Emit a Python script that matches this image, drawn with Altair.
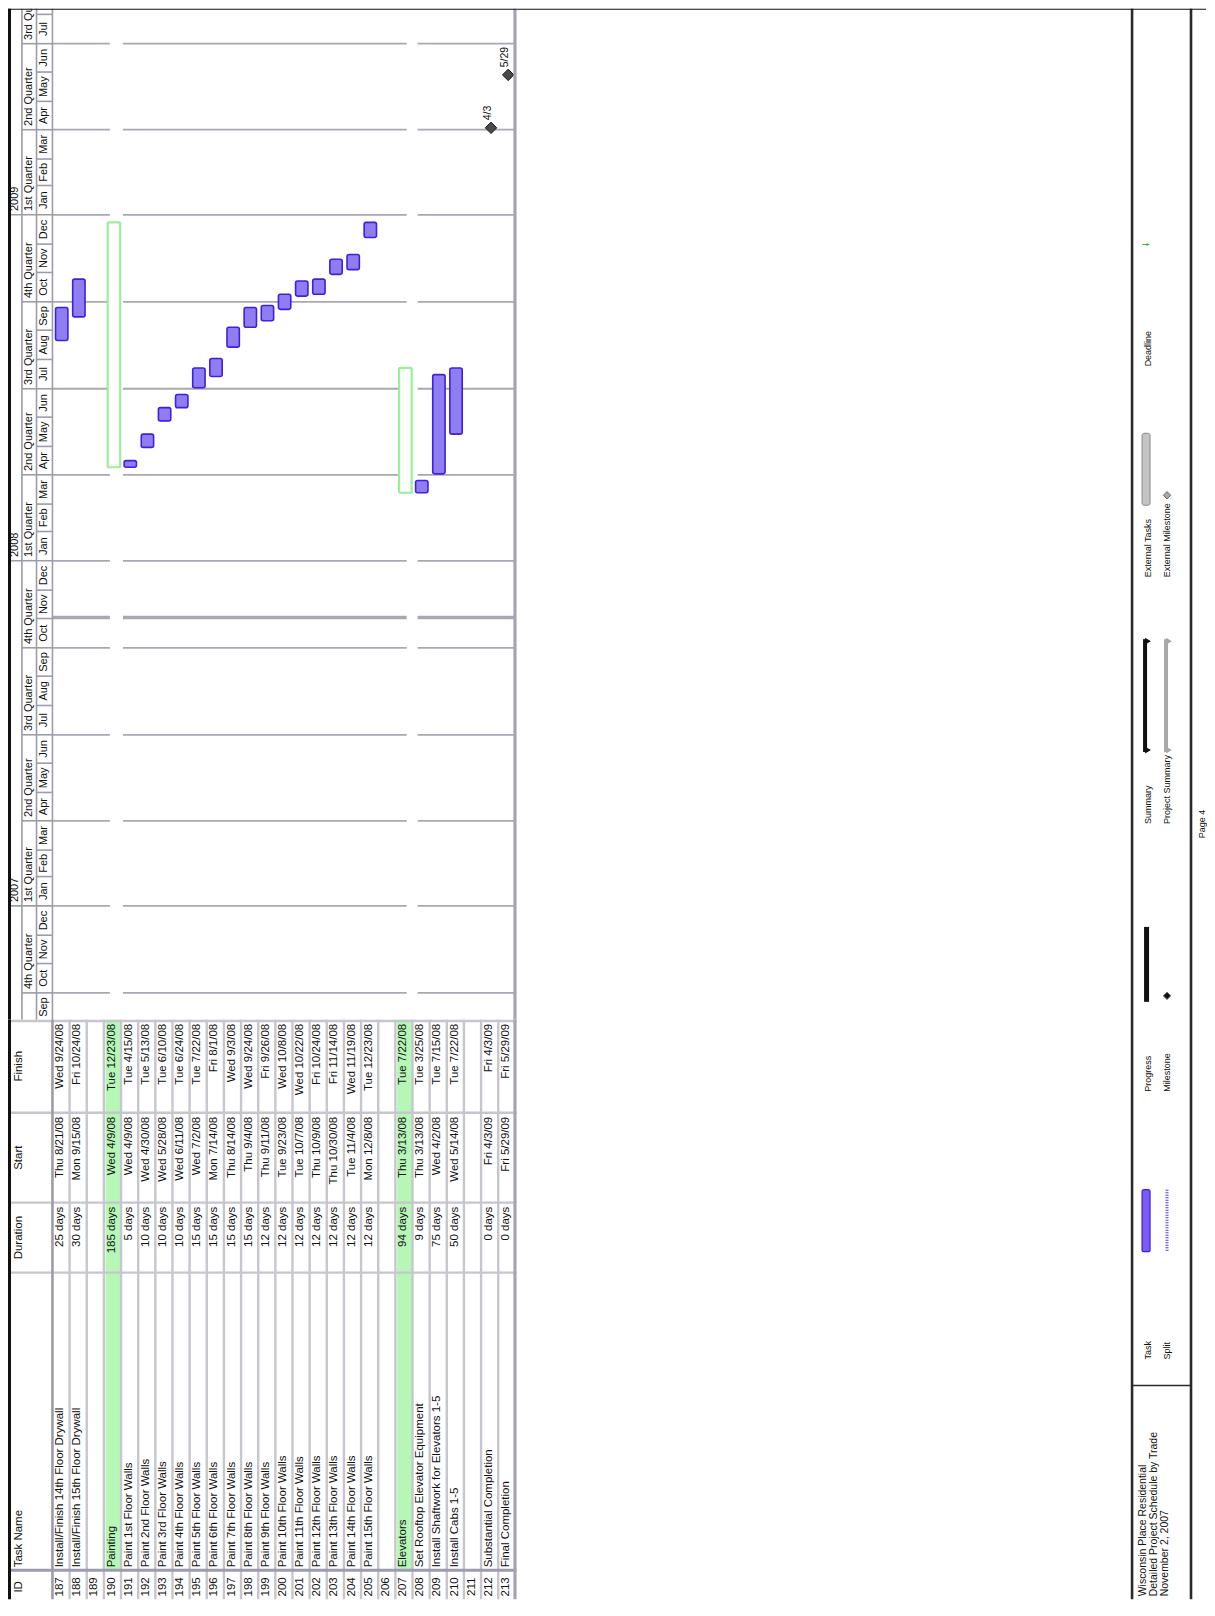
import altair as alt
import pandas as pd
from datetime import datetime, timedelta

# ------------------------------------------------------------------ data
task_ids = list(range(187, 214))
task_names = [
    "Install/Finish 14th Floor Drywall", "Install/Finish 15th Floor Drywall", "", "Painting",
    "Paint 1st Floor Walls", "Paint 2nd Floor Walls", "Paint 3rd Floor Walls", "Paint 4th Floor Walls",
    "Paint 5th Floor Walls", "Paint 6th Floor Walls", "Paint 7th Floor Walls", "Paint 8th Floor Walls",
    "Paint 9th Floor Walls", "Paint 10th Floor Walls", "Paint 11th Floor Walls", "Paint 12th Floor Walls",
    "Paint 13th Floor Walls", "Paint 14th Floor Walls", "Paint 15th Floor Walls", "", "Elevators",
    "Set Rooftop Elevator Equipment", "Install Shaftwork for Elevators 1-5", "Install Cabs 1-5", "",
    "Substantial Completion", "Final Completion",
]
durations = [
    "25 days", "30 days", "", "185 days", "5 days", "10 days", "10 days", "10 days", "15 days",
    "15 days", "15 days", "15 days", "12 days", "12 days", "12 days", "12 days", "12 days", "12 days",
    "12 days", "", "94 days", "9 days", "75 days", "50 days", "", "0 days", "0 days",
]
starts = [
    "Thu 8/21/08", "Mon 9/15/08", "", "Wed 4/9/08", "Wed 4/9/08", "Wed 4/30/08", "Wed 5/28/08",
    "Wed 6/11/08", "Wed 7/2/08", "Mon 7/14/08", "Thu 8/14/08", "Thu 9/4/08", "Thu 9/11/08",
    "Tue 9/23/08", "Tue 10/7/08", "Thu 10/9/08", "Thu 10/30/08", "Tue 11/4/08", "Mon 12/8/08", "",
    "Thu 3/13/08", "Thu 3/13/08", "Wed 4/2/08", "Wed 5/14/08", "", "Fri 4/3/09", "Fri 5/29/09",
]
finishes = [
    "Wed 9/24/08", "Fri 10/24/08", "", "Tue 12/23/08", "Tue 4/15/08", "Tue 5/13/08", "Tue 6/10/08",
    "Tue 6/24/08", "Tue 7/22/08", "Fri 8/1/08", "Wed 9/3/08", "Wed 9/24/08", "Fri 9/26/08",
    "Wed 10/8/08", "Wed 10/22/08", "Fri 10/24/08", "Fri 11/14/08", "Wed 11/19/08", "Tue 12/23/08", "",
    "Tue 7/22/08", "Tue 3/25/08", "Tue 7/15/08", "Tue 7/22/08", "", "Fri 4/3/09", "Fri 5/29/09",
]
kinds = (["task", "task", "blank", "summary"] + ["task"] * 15 +
         ["blank", "summary", "task", "task", "task", "blank", "milestone", "milestone"])

status_date = "2007-11-02"
column_headers = ["Finish", "Start", "Duration", "Task Name", "ID"]
month_abbr = ["Jan", "Feb", "Mar", "Apr", "May", "Jun", "Jul", "Aug", "Sep", "Oct", "Nov", "Dec"]
quarter_names = ["1st Quarter", "2nd Quarter", "3rd Quarter", "4th Quarter"]
footer_title = ["Wisconsin Place Residential", "Detailed Project Schedule by Trade", "November 2, 2007"]
legend_col1 = ["Task", "Progress", "Summary", "External Tasks", "Deadline"]
legend_col2 = ["Split", "Milestone", "Project Summary", "External Milestone"]
page_label = "Page 4"

# ------------------------------------------------------------------ layout
FONT = "Liberation Sans"
LEFT_W = 509
GANTT_H = 1012
TABLE_H = 580
FOOT_W = 690
X0, X1 = -2.593, 27.07
PPU = LEFT_W / (X1 - X0)          # pixels per row unit
XS = alt.Scale(domain=[X0, X1], nice=False, zero=False)
YS = alt.Scale(domain=[alt.DateTime(year=2006, month=9, date=2, hours=12),
                       alt.DateTime(year=2009, month=8, date=7, hours=1)], nice=False)
TS = alt.Scale(domain=[1020, 1600], nice=False, zero=False, reverse=True)
FXS = alt.Scale(domain=[517, 1207], nice=False, zero=False)
FYS = alt.Scale(domain=[8, 1600], nice=False, zero=False, reverse=True)

YEAR_X, QTR_X, MON_X = -1.78, -0.93, 0.0
GRID_SEGS = [(0.0, 3.35), (4.11, 20.66), (21.3, 26.95)]
COL_EDGES = [1020, 1113, 1203, 1273, 1571, 1600]

GRID = "#a8a8b5"
HEAD_LINE = "#9c9caa"
TABLE_LINE = "#c6c6ce"
BAR_FILL = "#8f7ef2"
BAR_STROKE = "#3f1fe0"
SUM_GREEN = "#98f098"
INK = "#111111"


def parse_day(s):
    m, d, y = s.split()[1].split("/")
    return datetime(2000 + int(y), int(m), int(d))


def iso(dt):
    return dt.strftime("%Y-%m-%dT%H:%M:%S")


def gx(f="x"):
    return alt.X(f"{f}:Q", scale=XS, axis=None)


def gy(f="d"):
    return alt.Y(f"{f}:T", scale=YS, axis=None)


def ty(f="py"):
    return alt.Y(f"{f}:Q", scale=TS, axis=None)


def fx(f="px"):
    return alt.X(f"{f}:Q", scale=FXS, axis=None)


def fy(f="py"):
    return alt.Y(f"{f}:Q", scale=FYS, axis=None)


def vbands(centers, width_px, color, ppu=PPU, enc=gx):
    """full-height thin line drawn as a stroke-less rect"""
    h = width_px / 2 / ppu
    df = pd.DataFrame({"x": [c - h for c in centers], "x2": [c + h for c in centers]})
    if enc is fx:
        df = df.rename(columns={"x": "px", "x2": "px2"})
        return alt.Chart(df).mark_rect(fill=color).encode(x=fx(), x2=alt.X2("px2"))
    return alt.Chart(df).mark_rect(fill=color).encode(x=gx(), x2=alt.X2("x2"))


def hbands_table(centers, width_px, color):
    h = width_px / 2
    df = pd.DataFrame({"py": [c - h for c in centers], "py2": [c + h for c in centers]})
    return alt.Chart(df).mark_rect(fill=color).encode(y=ty(), y2=alt.Y2("py2"))


def top_line():
    return alt.Chart(pd.DataFrame({"a": [0]})).mark_rect(fill=INK).encode(
        y=alt.value(0), y2=alt.value(1))


# ------------------------------------------------------------------ gantt panel
bars, sums, miles, mlabels = [], [], [], []
for i, (k, s, f) in enumerate(zip(kinds, starts, finishes)):
    if k == "task":
        bars.append({"x": i + 0.18, "x2": i + 0.9, "d": iso(parse_day(s)),
                     "d2": iso(parse_day(f) + timedelta(days=1))})
    elif k == "summary":
        sums.append({"x": i + 0.22, "x2": i + 0.95, "d": iso(parse_day(s)),
                     "d2": iso(parse_day(f) + timedelta(days=1))})
    elif k == "milestone":
        dt = parse_day(f)
        miles.append({"x": i + 0.58, "d": iso(dt)})
        mlabels.append({"x": i + 0.38, "d": iso(dt + timedelta(days=8)),
                        "t": f"{dt.month}/{dt.day}"})

# calendar
month_starts = []
y, m = 2006, 9
while (y, m) <= (2009, 7):
    month_starts.append(datetime(y, m, 1))
    m += 1
    if m > 12:
        m, y = 1, y + 1
month_starts.append(datetime(2009, 8, 1))

ticks, mon_lbl, qtr_lbl, yr_lbl, grid = [], [], [], [], []
for ms in month_starts:
    nxt = datetime(ms.year + (ms.month == 12), ms.month % 12 + 1, 1)
    mid = ms + (nxt - ms) / 2
    if mid < datetime(2009, 8, 7):
        mon_lbl.append({"x": -0.466, "d": iso(mid), "t": month_abbr[ms.month - 1]})
    if ms.month == 1:
        x0 = X0 + 2.5 / PPU
    elif ms.month in (4, 7, 10):
        x0 = YEAR_X
    else:
        x0 = QTR_X
    if ms > datetime(2006, 9, 3):
        ticks.append({"x": x0, "x2": MON_X, "d": iso(ms)})
    if ms.month in (1, 4, 7, 10):
        if ms > datetime(2006, 9, 3):
            qtr_lbl.append({"x": -1.355, "d": iso(ms + timedelta(days=4)),
                            "t": quarter_names[(ms.month - 1) // 3]})
            for a, b in GRID_SEGS:
                grid.append({"x": a, "x2": b, "d": iso(ms)})
    if ms.month == 1:
        yr_lbl.append({"x": -2.19, "d": iso(ms + timedelta(days=4)), "t": str(ms.year)})

now_line = [{"x": a, "x2": b, "d": status_date + "T00:00:00"} for a, b in GRID_SEGS]

g_sep = vbands([YEAR_X, QTR_X, MON_X], 1.6, HEAD_LINE)
g_border = vbands([X0 + 1.5 / PPU], 3, INK)
g_rborder = vbands([X1 - 1.6 / PPU], 3.2, "#a4a4b2")
g_top = top_line()
g_ticks = alt.Chart(pd.DataFrame(ticks)).mark_rule(color=HEAD_LINE, strokeWidth=1.6).encode(
    x=gx(), x2=alt.X2("x2"), y=gy())
g_grid = alt.Chart(pd.DataFrame(grid)).mark_rule(color=GRID, strokeWidth=1.8).encode(
    x=gx(), x2=alt.X2("x2"), y=gy())
g_now = alt.Chart(pd.DataFrame(now_line)).mark_rule(color=GRID, strokeWidth=3.5).encode(
    x=gx(), x2=alt.X2("x2"), y=gy())
g_mon = alt.Chart(pd.DataFrame(mon_lbl)).mark_text(
    angle=270, align="center", baseline="middle", fontSize=11, font=FONT, color=INK,
    clip=True).encode(x=gx(), y=gy(), text="t:N")
g_qtr = alt.Chart(pd.DataFrame(qtr_lbl)).mark_text(
    angle=270, align="left", baseline="middle", fontSize=11, font=FONT, color=INK,
    clip=True).encode(x=gx(), y=gy(), text="t:N")
g_yr = alt.Chart(pd.DataFrame(yr_lbl)).mark_text(
    angle=270, align="left", baseline="middle", fontSize=11, font=FONT, color=INK,
    clip=True).encode(x=gx(), y=gy(), text="t:N")
g_sum = alt.Chart(pd.DataFrame(sums)).mark_rect(
    fill="white", stroke=SUM_GREEN, strokeWidth=2.2, cornerRadius=1).encode(
    x=gx(), x2=alt.X2("x2"), y=gy(), y2=alt.Y2("d2"))
g_bar = alt.Chart(pd.DataFrame(bars)).mark_rect(
    fill=BAR_FILL, stroke=BAR_STROKE, strokeWidth=1.6, cornerRadius=2).encode(
    x=gx(), x2=alt.X2("x2"), y=gy(), y2=alt.Y2("d2"))
g_mile = alt.Chart(pd.DataFrame(miles)).mark_point(
    shape="diamond", filled=True, size=130, fill="#4a4a4a", stroke=INK, strokeWidth=1,
    opacity=1).encode(x=gx(), y=gy())
g_mlab = alt.Chart(pd.DataFrame(mlabels)).mark_text(
    angle=270, align="left", baseline="middle", fontSize=10.5, font=FONT, color=INK).encode(
    x=gx(), y=gy(), text="t:N")

gantt = alt.layer(g_grid, g_now, g_ticks, g_sep, g_sum, g_bar, g_mile, g_mlab,
                  g_mon, g_qtr, g_yr, g_rborder, g_border, g_top).properties(
    width=LEFT_W, height=GANTT_H)

# ------------------------------------------------------------------ table panel
green, txt_l, txt_r, txt_c = [], [], [], []
fin_top, start_top, dur_top, name_top, id_top, tbl_bot = COL_EDGES
for i in range(len(task_ids)):
    cx = i + 0.45
    if kinds[i] == "summary":
        green.append({"x": i + 0.1, "x2": i + 1.0, "py": fin_top, "py2": id_top})
    if task_names[i]:
        txt_l.append({"x": cx, "py": id_top - 3, "t": task_names[i]})
    if finishes[i]:
        txt_r.append({"x": cx, "py": fin_top + 4, "t": finishes[i]})
    if starts[i]:
        txt_r.append({"x": cx, "py": start_top + 4, "t": starts[i]})
    if durations[i]:
        txt_r.append({"x": cx, "py": dur_top + 4, "t": durations[i]})
    txt_c.append({"x": cx, "py": (id_top + tbl_bot) / 2 + 2, "t": str(task_ids[i])})

hx = -1.95
txt_c += [
    {"x": hx, "py": (fin_top + start_top) / 2, "t": column_headers[0]},
    {"x": hx, "py": (start_top + dur_top) / 2, "t": column_headers[1]},
    {"x": hx, "py": (dur_top + name_top) / 2, "t": column_headers[2]},
    {"x": hx, "py": (id_top + tbl_bot) / 2 + 2, "t": column_headers[4]},
]
txt_l.append({"x": hx, "py": id_top - 3, "t": column_headers[3]})

t_green = alt.Chart(pd.DataFrame(green)).mark_rect(fill="#b6f7b6").encode(
    x=gx(), x2=alt.X2("x2"), y=ty(), y2=alt.Y2("py2"))
t_rows = vbands(list(range(1, 27)), 2.4, TABLE_LINE)
t_sep0 = vbands([0.0], 2.6, HEAD_LINE)
t_cols = hbands_table([fin_top + 1.2, start_top, dur_top, name_top], 2.4, TABLE_LINE)
t_idline = hbands_table([id_top], 3, HEAD_LINE)
t_border = vbands([X0 + 1.5 / PPU], 3, INK)
t_rborder = vbands([X1 - 1.6 / PPU], 3.2, "#a4a4b2")
t_l = alt.Chart(pd.DataFrame(txt_l)).mark_text(
    angle=270, align="left", baseline="middle", fontSize=11.5, font=FONT, color=INK).encode(
    x=gx(), y=ty(), text="t:N")
t_r = alt.Chart(pd.DataFrame(txt_r)).mark_text(
    angle=270, align="right", baseline="middle", fontSize=11.5, font=FONT, color=INK).encode(
    x=gx(), y=ty(), text="t:N")
t_c = alt.Chart(pd.DataFrame(txt_c)).mark_text(
    angle=270, align="center", baseline="middle", fontSize=11.5, font=FONT, color=INK).encode(
    x=gx(), y=ty(), text="t:N")

table = alt.layer(t_green, t_rows, t_cols, t_idline, t_sep0, t_rborder, t_border,
                  t_l, t_r, t_c).properties(width=LEFT_W, height=TABLE_H)

# ------------------------------------------------------------------ footer panel
BOX_L, BOX_R, BOX_DIV = 1133, 1192, 1386
C1, C2 = 1149, 1168
slot1 = [1360, 1092, 824, 577, 366]
slot2 = [1360, 1092, 824, 577]

f_vlines = vbands([BOX_L, BOX_R], 2.6, "#2a2a2a", ppu=1, enc=fx)
f_top = top_line()
f_div = alt.Chart(pd.DataFrame({"px": [BOX_L], "px2": [BOX_R], "py": [BOX_DIV]})).mark_rule(
    color="#2a2a2a", strokeWidth=1.6).encode(x=fx(), x2=alt.X2("px2"), y=fy())

title_df = pd.DataFrame({"px": [1144, 1155, 1165.5], "py": [1597] * 3, "t": footer_title})
f_title = alt.Chart(title_df).mark_text(
    angle=270, align="left", baseline="middle", fontSize=10.5, font=FONT, color=INK).encode(
    x=fx(), y=fy(), text="t:N")
leg_df = pd.DataFrame(
    [{"px": C1, "py": p, "t": t} for p, t in zip(slot1, legend_col1)] +
    [{"px": C2, "py": p, "t": t} for p, t in zip(slot2, legend_col2)])
f_leg = alt.Chart(leg_df).mark_text(
    angle=270, align="left", baseline="middle", fontSize=9, font=FONT, color=INK).encode(
    x=fx(), y=fy(), text="t:N")
f_page = alt.Chart(pd.DataFrame({"px": [1203], "py": [824], "t": [page_label]})).mark_text(
    angle=270, align="center", baseline="middle", fontSize=9, font=FONT, color=INK).encode(
    x=fx(), y=fy(), text="t:N")

# legend samples
f_task = alt.Chart(pd.DataFrame({"px": [1143], "px2": [1151], "py": [1190], "py2": [1252]})).mark_rect(
    fill="#7a5cf0", stroke=BAR_STROKE, strokeWidth=1.2, cornerRadius=2).encode(
    x=fx(), x2=alt.X2("px2"), y=fy(), y2=alt.Y2("py2"))
f_split = alt.Chart(pd.DataFrame({"px": [C2], "py": [1190], "py2": [1252]})).mark_rule(
    color="#5a3ae8", strokeWidth=3, strokeDash=[1, 1.5]).encode(x=fx(), y=fy(), y2=alt.Y2("py2"))
f_prog = alt.Chart(pd.DataFrame({"px": [1145], "px2": [1150], "py": [927], "py2": [1002]})).mark_rect(
    fill=INK).encode(x=fx(), x2=alt.X2("px2"), y=fy(), y2=alt.Y2("py2"))
f_sumbar = alt.Chart(pd.DataFrame({"px": [1146, C2 - 1], "py": [639, 639], "py2": [752, 752],
                                   "c": ["a", "b"]})).mark_rule(strokeWidth=4).encode(
    x=fx(), y=fy(), y2=alt.Y2("py2"),
    color=alt.Color("c:N", scale=alt.Scale(domain=["a", "b"], range=[INK, "#a8a8a8"]), legend=None))
f_caps = alt.Chart(pd.DataFrame({"px": [1149, 1149, C2 + 2, C2 + 2], "py": [641, 750, 641, 750],
                                 "c": ["a", "a", "b", "b"]})).mark_point(
    shape="triangle-right", filled=True, size=45, opacity=1).encode(
    x=fx(), y=fy(),
    color=alt.Color("c:N", scale=alt.Scale(domain=["a", "b"], range=[INK, "#a8a8a8"]), legend=None))
f_ext = alt.Chart(pd.DataFrame({"px": [1143], "px2": [1151], "py": [433], "py2": [505]})).mark_rect(
    fill="#c4c4c4", stroke="#8a8a8a", strokeWidth=1, cornerRadius=2).encode(
    x=fx(), x2=alt.X2("px2"), y=fy(), y2=alt.Y2("py2"))
f_dia = alt.Chart(pd.DataFrame({"px": [C2, C2], "py": [996, 495], "c": ["a", "b"]})).mark_point(
    shape="diamond", filled=True, size=55, opacity=1, stroke="#555555", strokeWidth=0.8).encode(
    x=fx(), y=fy(),
    color=alt.Color("c:N", scale=alt.Scale(domain=["a", "b"], range=["#222222", "#c0c0c0"]), legend=None))
f_dead = alt.Chart(pd.DataFrame({"px": [1147], "py": [244]})).mark_point(
    shape="arrow", angle=90, filled=True, size=60, color="#3cb83c", opacity=1).encode(x=fx(), y=fy())

footer = alt.layer(f_vlines, f_div, f_top, f_title, f_leg, f_page, f_task, f_split, f_prog,
                   f_sumbar, f_caps, f_ext, f_dia, f_dead).properties(
    width=FOOT_W, height=GANTT_H + TABLE_H)

left = alt.vconcat(gantt, table, spacing=0)
chart = alt.hconcat(left, footer, spacing=0).properties(
    padding=0, background="white").configure_view(stroke=None)

chart.save("out.html", embed_options={"renderer": "svg", "actions": False})
